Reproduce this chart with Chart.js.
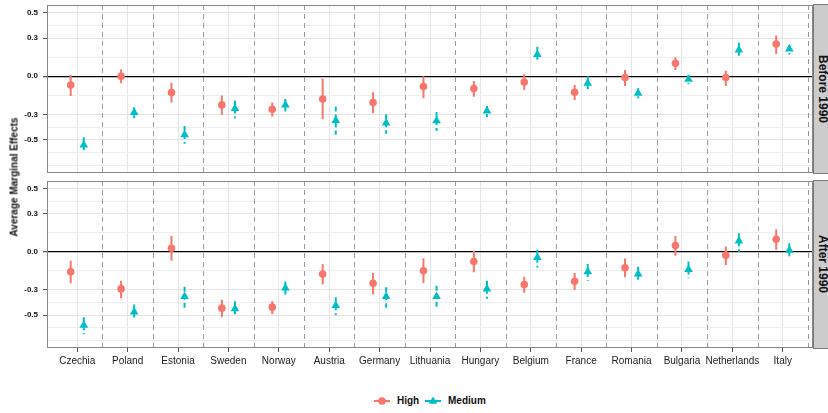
<!DOCTYPE html>
<html>
<head>
<meta charset="utf-8">
<script src="https://cdn.jsdelivr.net/npm/chart.js@4.4.0/dist/chart.umd.min.js"></script>
<style>
  body { margin: 0; width: 828px; height: 413px; overflow: hidden; background: #fff; position: relative;
         font-family: "Liberation Sans", Arial, sans-serif; }
  canvas { position: absolute; left: 0; }
  .strip { position: absolute; left: 813px; width: 24px; background: #cccccc; border: 1px solid #777;
           box-sizing: border-box; display: flex; align-items: center; justify-content: center; }
  .strip span { writing-mode: vertical-rl; font-weight: bold; font-size: 12px; color: #111; margin-left: -4px; }
  .ytitle { position: absolute; left: 14px; top: 177px; transform: translate(-50%, -50%) rotate(-90deg);
            font-weight: bold; font-size: 10px; color: #111; white-space: nowrap; }
  .key { position: absolute; top: 396px; }
  .lab { position: absolute; top: 395px; font-weight: bold; font-size: 10px; line-height: 12px; color: #111; }
</style>
</head>
<body>
<canvas id="top" width="828" height="178" style="top:0"></canvas>
<canvas id="bottom" width="828" height="200" style="top:176px"></canvas>
<div class="strip" style="top:4px;height:170px"><span>Before 1990</span></div>
<div class="strip" style="top:180px;height:169px"><span>After 1990</span></div>
<div class="ytitle">Average Marginal Effects</div>
<canvas class="key" id="keyHigh" width="16" height="10" style="left:374px"></canvas>
<div class="lab" style="left:397px">High</div>
<canvas class="key" id="keyMed" width="16" height="10" style="left:425px"></canvas>
<div class="lab" style="left:448px">Medium</div>
<script>
const countries = ['Czechia', 'Poland', 'Estonia', 'Sweden', 'Norway', 'Austria', 'Germany', 'Lithuania',
  'Hungary', 'Belgium', 'France', 'Romania', 'Bulgaria', 'Netherlands', 'Italy'];

// Before 1990
const highBefore   = [-0.068, 0.0, -0.128, -0.225, -0.259, -0.178, -0.207, -0.081, -0.097, -0.045, -0.125, -0.01, 0.102, -0.01, 0.253];
const highBeforeLo = [-0.155, -0.055, -0.207, -0.303, -0.316, -0.337, -0.29, -0.172, -0.16, -0.107, -0.186, -0.076, 0.05, -0.076, 0.175];
const highBeforeHi = [0.01, 0.055, -0.05, -0.152, -0.207, -0.02, -0.125, 0.0, -0.037, 0.016, -0.068, 0.05, 0.149, 0.044, 0.321];
const medBefore    = [-0.54, -0.285, -0.46, -0.254, -0.225, -0.348, -0.368, -0.35, -0.272, 0.172, -0.055, -0.133, -0.024, 0.206, 0.214];
const medBeforeLo  = [-0.60, -0.33, -0.53, -0.33, -0.277, -0.46, -0.452, -0.43, -0.32, 0.107, -0.11, -0.172, -0.063, 0.141, 0.172];
const medBeforeHi  = [-0.48, -0.243, -0.39, -0.19, -0.178, -0.238, -0.298, -0.28, -0.233, 0.232, 0.0, -0.094, 0.01, 0.263, 0.245];

// After 1990
const highAfter   = [-0.157, -0.293, 0.029, -0.445, -0.437, -0.175, -0.249, -0.149, -0.076, -0.259, -0.233, -0.126, 0.05, -0.026, 0.1];
const highAfterLo = [-0.249, -0.366, -0.071, -0.516, -0.494, -0.259, -0.338, -0.246, -0.162, -0.324, -0.301, -0.201, -0.031, -0.104, 0.016];
const highAfterHi = [-0.071, -0.228, 0.126, -0.379, -0.39, -0.097, -0.168, -0.05, 0.008, -0.196, -0.168, -0.052, 0.126, 0.042, 0.178];
const medAfter    = [-0.58, -0.476, -0.353, -0.45, -0.285, -0.424, -0.353, -0.353, -0.293, -0.045, -0.157, -0.175, -0.139, 0.086, 0.013];
const medAfterLo  = [-0.651, -0.54, -0.45, -0.516, -0.338, -0.502, -0.442, -0.45, -0.371, -0.123, -0.228, -0.235, -0.207, 0.0, -0.05];
const medAfterHi  = [-0.516, -0.416, -0.275, -0.39, -0.235, -0.359, -0.28, -0.267, -0.228, 0.016, -0.097, -0.118, -0.076, 0.147, 0.068];

const yMajor = [0.5, 0.3, 0, -0.3, -0.5];
const yMinor = [0.4, 0.15, -0.15, -0.4, -0.6, -0.7];

const RED = '#F8766D';
const TEAL = '#00BFC4';
const DODGE = 0.13;

function points(vals, off) {
  return vals.map((v, i) => ({ x: i + 1 + off, y: v }));
}

// vertical segments separated by gaps
function bars(lo, hi, off) {
  const out = [];
  lo.forEach((l, i) => {
    out.push({ x: i + 1 + off, y: hi[i] }, { x: i + 1 + off, y: l }, { x: i + 1 + off, y: null });
  });
  return out;
}

const panelDeco = {
  id: 'panelDeco',
  beforeDatasetsDraw(chart) {
    const { ctx, chartArea: a, scales: { x } } = chart;
    ctx.save();
    ctx.strokeStyle = '#9a9a9a';
    ctx.lineWidth = 1;
    ctx.setLineDash([5, 4]);
    for (let k = 1; k <= countries.length; k++) {
      const px = Math.round(x.getPixelForValue(k + 0.5)) + 0.5;
      ctx.beginPath();
      ctx.moveTo(px, a.top);
      ctx.lineTo(px, a.bottom);
      ctx.stroke();
    }
    ctx.restore();
  },
  afterDraw(chart) {
    const { ctx, chartArea: a } = chart;
    ctx.save();
    ctx.strokeStyle = '#888';
    ctx.lineWidth = 1;
    ctx.strokeRect(a.left + 0.5, a.top + 0.5, a.right - a.left - 1, a.bottom - a.top - 1);
    ctx.restore();
  }
};

function noPad(s) {
  s.paddingTop = 0; s.paddingBottom = 0; s.paddingLeft = 0; s.paddingRight = 0;
}

function makeChart(id, hi, hiLo, hiHi, med, medLo, medHi, showX) {
  return new Chart(document.getElementById(id), {
    type: 'scatter',
    data: {
      datasets: [
        { label: 'High', data: points(hi, -DODGE), backgroundColor: RED, borderWidth: 0,
          pointStyle: 'circle', pointRadius: 3.8, order: 0 },
        { label: 'Medium', data: points(med, DODGE), backgroundColor: TEAL, borderWidth: 0,
          pointStyle: 'triangle', pointRadius: 5, order: 0 },
        { type: 'line', data: bars(hiLo, hiHi, -DODGE), borderColor: RED, borderWidth: 2,
          pointRadius: 0, spanGaps: false, order: 1 },
        { type: 'line', data: bars(medLo, medHi, DODGE), borderColor: TEAL, borderWidth: 2,
          borderDash: [5, 3], pointRadius: 0, spanGaps: false, order: 1 }
      ]
    },
    options: {
      responsive: false,
      animation: false,
      events: [],
      layout: { padding: { top: 4, right: 15, bottom: showX ? 0 : 5, left: 0 } },
      plugins: { legend: { display: false }, tooltip: { enabled: false } },
      scales: {
        x: {
          type: 'linear', min: 0.4, max: 15.6,
          afterBuildTicks: s => { s.ticks = countries.map((c, i) => ({ value: i + 1 })); },
          afterFit: s => { s.height = showX ? 28 : 0; noPad(s); },
          border: { display: false },
          grid: { color: '#e6e6e6', lineWidth: 1, drawTicks: showX, tickLength: 4, tickColor: '#555' },
          ticks: {
            display: showX, autoSkip: false, maxRotation: 0, padding: 3,
            color: '#222', font: { family: '"Liberation Sans", Arial', size: 10 },
            callback: v => countries[Math.round(v) - 1]
          }
        },
        y: {
          min: -0.76, max: 0.56,
          afterBuildTicks: s => {
            s.ticks = yMajor.concat(yMinor).sort((a, b) => a - b).map(v => ({ value: v }));
          },
          afterFit: s => { s.width = 47; noPad(s); },
          border: { display: false },
          grid: {
            color: c => c.tick && c.tick.value === 0 ? '#000' : (yMajor.includes(c.tick && c.tick.value) ? '#e4e4e4' : '#efefef'),
            lineWidth: c => c.tick && c.tick.value === 0 ? 1.3 : 1,
            tickLength: 4,
            tickColor: c => yMajor.includes(c.tick && c.tick.value) ? '#555' : 'rgba(0,0,0,0)'
          },
          ticks: {
            autoSkip: false, padding: 5, color: '#111',
            font: { family: '"Liberation Sans", Arial', size: 8, weight: 'bold' },
            callback: v => yMajor.includes(v) ? v.toFixed(1) : ''
          }
        }
      }
    },
    plugins: [panelDeco]
  });
}

makeChart('top', highBefore, highBeforeLo, highBeforeHi, medBefore, medBeforeLo, medBeforeHi, false);
makeChart('bottom', highAfter, highAfterLo, highAfterHi, medAfter, medAfterLo, medAfterHi, true);

// legend keys
function key(id, color, shape) {
  const c = document.getElementById(id).getContext('2d');
  c.strokeStyle = color; c.fillStyle = color; c.lineWidth = 2;
  c.beginPath(); c.moveTo(0, 5); c.lineTo(16, 5); c.stroke();
  c.beginPath();
  if (shape === 'circle') {
    c.arc(8, 5, 3.8, 0, Math.PI * 2);
  } else {
    c.moveTo(8, 0.5); c.lineTo(12.3, 7.7); c.lineTo(3.7, 7.7); c.closePath();
  }
  c.fill();
}
key('keyHigh', RED, 'circle');
key('keyMed', TEAL, 'triangle');
</script>
</body>
</html>
